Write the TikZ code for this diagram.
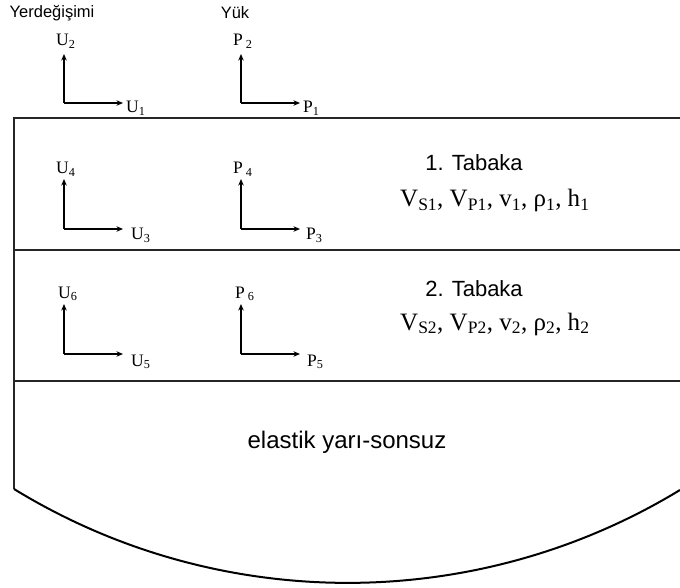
\documentclass[tikz,border=0pt]{standalone}
\usepackage{fontspec}
\setmainfont{Liberation Serif}
\setsansfont{Liberation Sans}
\usetikzlibrary{arrows.meta}
\begin{document}
\begin{tikzpicture}[x=1pt,y=-1pt,
  layer/.style={line width=2.4pt,draw=black!85},
  axis/.style={line width=1.5pt,-{Stealth[length=6.5pt,width=5.5pt]}},
  lab/.style={inner sep=0pt,anchor=base west,font=\fontsize{17.5}{20}\selectfont},
  head/.style={inner sep=0pt,font=\sffamily\fontsize{16.5}{19}\selectfont},
  tab/.style={inner sep=0pt,font=\sffamily\fontsize{22}{26}\selectfont},
  par/.style={inner sep=0pt,anchor=base west,font=\fontsize{25}{28}\selectfont}]
\useasboundingbox (0,0) rectangle (680,588);
% layers
\coordinate (tl) at (14,118);
\coordinate (tr) at (682,118);
\coordinate (m1l) at (14,250);
\coordinate (m1r) at (682,250);
\coordinate (m2l) at (14,381);
\coordinate (m2r) at (682,381);
\coordinate (bl) at (14,489);
\coordinate (br) at (680,490);
\draw[layer] (tr) -- (tl) -- (bl);
\draw[layer] (m1l) -- (m1r);
\draw[layer] (m2l) -- (m2r);
\draw[line width=2pt] (bl) .. controls (218,614) and (476,614) .. (br);
% headings
\node[head] (hy) at (52,13) {Yerdeğişimi};
\node[head] (hk) at (235,13) {Yük};
% row 1
\coordinate (c1) at (64,103); \coordinate (c1u) at (64,54); \coordinate (c1r) at (123,103);
\draw[axis] (c1) -- (c1u); \draw[axis] (c1) -- (c1r);
\node[lab] (u2) at (56,46) {U\textsubscript{2}};
\node[lab] (u1) at (126,113) {U\textsubscript{1}};
\coordinate (d1) at (241,103); \coordinate (d1u) at (241,54); \coordinate (d1r) at (300,103);
\draw[axis] (d1) -- (d1u); \draw[axis] (d1) -- (d1r);
\node[lab] (p2) at (233,46) {P\,\textsubscript{2}};
\node[lab] (p1) at (303,113) {P\textsubscript{1}};
% row 2
\coordinate (c2) at (64,229); \coordinate (c2u) at (64,179); \coordinate (c2r) at (123,229);
\draw[axis] (c2) -- (c2u); \draw[axis] (c2) -- (c2r);
\node[lab] (u4) at (56,174) {U\textsubscript{4}};
\node[lab] (u3) at (131,240) {U\textsubscript{3}};
\coordinate (d2) at (241,229); \coordinate (d2u) at (241,179); \coordinate (d2r) at (300,229);
\draw[axis] (d2) -- (d2u); \draw[axis] (d2) -- (d2r);
\node[lab] (p4) at (233,174) {P\,\textsubscript{4}};
\node[lab] (p3) at (306,240) {P\textsubscript{3}};
% row 3
\coordinate (c3) at (64,354); \coordinate (c3u) at (64,304); \coordinate (c3r) at (123,354);
\draw[axis] (c3) -- (c3u); \draw[axis] (c3) -- (c3r);
\node[lab] (u6) at (58,298) {U\textsubscript{6}};
\node[lab] (u5) at (131,366) {U\textsubscript{5}};
\coordinate (d3) at (241,354); \coordinate (d3u) at (241,304); \coordinate (d3r) at (300,354);
\draw[axis] (d3) -- (d3u); \draw[axis] (d3) -- (d3r);
\node[lab] (p6) at (235,298) {P\,\textsubscript{6}};
\node[lab] (p5) at (307,366) {P\textsubscript{5}};
% layer descriptions
\node[tab] (t1) at (474,163) {1. Tabaka};
\node[par] (v1) at (400,207) {V\textsubscript{S1}, V\textsubscript{P1}, v\textsubscript{1}, ρ\textsubscript{1}, h\textsubscript{1}};
\node[tab] (t2) at (474,289) {2. Tabaka};
\node[par] (v2) at (400,330) {V\textsubscript{S2}, V\textsubscript{P2}, v\textsubscript{2}, ρ\textsubscript{2}, h\textsubscript{2}};
\node[tab,font=\sffamily\fontsize{24}{28}\selectfont] (hs) at (347,442) {elastik yarı-sonsuz};
\end{tikzpicture}
\end{document}
